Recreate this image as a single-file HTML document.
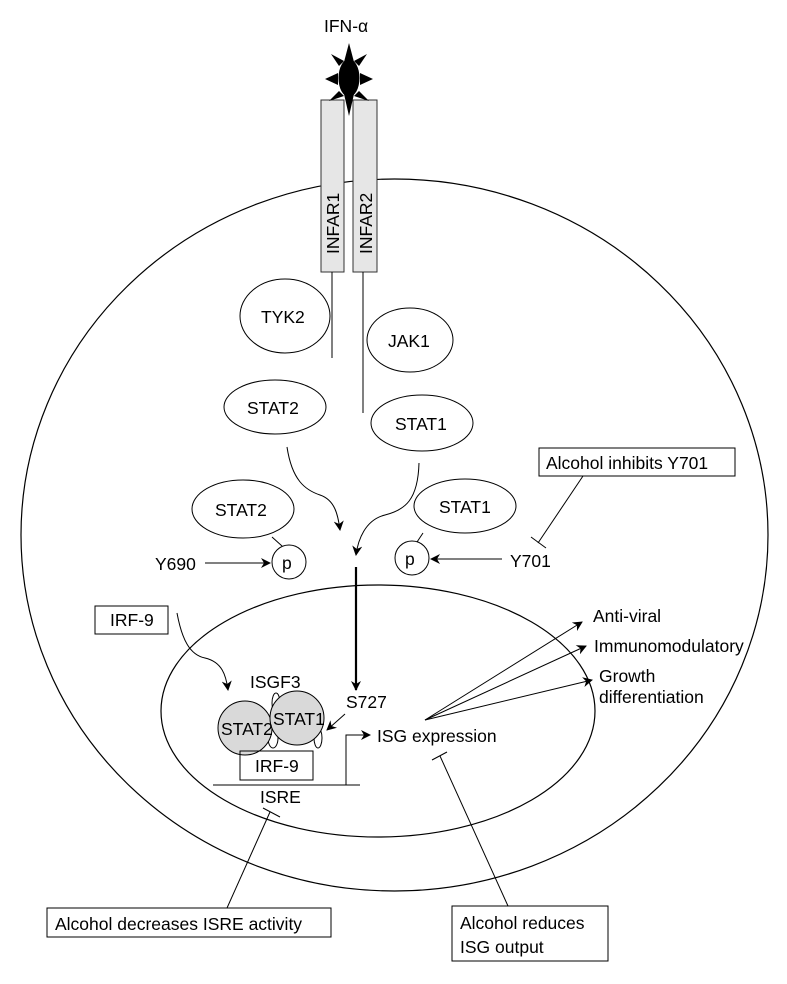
<!DOCTYPE html>
<html><head><meta charset="utf-8"><style>
html,body{margin:0;padding:0;background:#fff;}
svg{display:block;}
text{font-family:"Liberation Sans",sans-serif;font-size:17.5px;fill:#000;}
</style></head><body>
<svg width="787" height="984" viewBox="0 0 787 984" xmlns="http://www.w3.org/2000/svg">
<defs>
<marker id="a" viewBox="0 0 10 10" refX="9" refY="5" markerWidth="10" markerHeight="10" markerUnits="userSpaceOnUse" orient="auto"><path d="M0,0 L10,5 L0,10 L3,5 z" fill="#000"/></marker>
</defs>
<g fill="none" stroke="#000" stroke-width="1.2">
<ellipse cx="394.5" cy="535" rx="373.5" ry="356"/>
<ellipse cx="378" cy="711" rx="217" ry="126"/>
</g>
<!-- receptors -->
<rect x="321" y="100" width="23" height="172" fill="#e6e6e6" stroke="#333" stroke-width="1"/>
<rect x="353" y="100" width="24" height="172" fill="#e6e6e6" stroke="#333" stroke-width="1"/>
<text transform="translate(339,254) rotate(-90)" font-size="19">INFAR1</text>
<text transform="translate(372,254) rotate(-90)" font-size="19">INFAR2</text>
<!-- IFN star -->
<g fill="#000">
<ellipse cx="349" cy="78" rx="10.5" ry="19"/>
<polygon points="344,62 349,43 354,62"/>
<polygon points="344,94 349,116 354,94"/>
<polygon points="338,73 325,79 338,85"/>
<polygon points="360,73 373,79 360,85"/>
<polygon points="339,66 331,54 344,61"/>
<polygon points="359,66 367,54 354,61"/>
<polygon points="339,91 329,101 344,96"/>
<polygon points="359,91 369,101 354,96"/>
</g>
<text x="324" y="32" font-size="20">IFN-α</text>
<g fill="none" stroke="#000" stroke-width="1">
<line x1="332" y1="272" x2="332" y2="358"/>
<line x1="363" y1="272" x2="363" y2="413"/>
<ellipse cx="285" cy="316" rx="45" ry="37"/>
<ellipse cx="410" cy="340" rx="43" ry="32"/>
<ellipse cx="275" cy="407" rx="51" ry="27"/>
<ellipse cx="422" cy="423" rx="51" ry="28"/>
<ellipse cx="243" cy="509" rx="51" ry="29"/>
<ellipse cx="465" cy="506" rx="51" ry="27"/>
<circle cx="289" cy="562" r="17"/>
<circle cx="412" cy="558" r="17"/>
<line x1="272" y1="537" x2="282" y2="546"/>
<line x1="423" y1="533" x2="417" y2="542"/>
<line x1="205" y1="563" x2="270" y2="563" marker-end="url(#a)"/>
<line x1="502" y1="559" x2="431" y2="559" marker-end="url(#a)"/>
<path d="M287,447 C292,480 305,490 320,495 C335,500 338,515 340,530" marker-end="url(#a)"/>
<path d="M419,463 C418,500 405,510 385,515 C365,520 358,540 356,555" marker-end="url(#a)"/>
<line x1="356" y1="567" x2="356" y2="690" stroke-width="2.2" marker-end="url(#a)"/>
<line x1="583" y1="476" x2="538" y2="543"/>
<line x1="531" y1="537" x2="546" y2="548"/>
<rect x="539" y="448" width="196" height="28"/>
<rect x="95" y="606" width="73" height="28"/>
<path d="M177,613 C182,640 190,655 205,658 C222,662 226,675 228,690" marker-end="url(#a)"/>
<!-- ISGF3 complex -->
<ellipse cx="276" cy="703" rx="4" ry="10"/>
<ellipse cx="273" cy="738" rx="5" ry="10"/>
<ellipse cx="318" cy="738" rx="4" ry="10"/>
<circle cx="245" cy="728" r="27" fill="#d9d9d9"/>
<circle cx="297" cy="718" r="27" fill="#d9d9d9"/>
<rect x="240" y="751" width="73" height="29"/>
<line x1="213" y1="785" x2="360" y2="785"/>
<polyline points="346,785 346,735 370,735" marker-end="url(#a)"/>
<line x1="345" y1="714" x2="327" y2="730" marker-end="url(#a)"/>
<line x1="425" y1="720" x2="582" y2="622" marker-end="url(#a)"/>
<line x1="425" y1="720" x2="586" y2="646" marker-end="url(#a)"/>
<line x1="425" y1="720" x2="592" y2="680" marker-end="url(#a)"/>
<line x1="440" y1="756" x2="508" y2="906"/>
<line x1="432" y1="760" x2="447" y2="752"/>
<line x1="270" y1="812" x2="227" y2="908"/>
<line x1="263" y1="808" x2="280" y2="817"/>
<rect x="47" y="908" width="284" height="29"/>
<rect x="452" y="906" width="156" height="55"/>
</g>
<text x="261" y="323">TYK2</text>
<text x="388" y="347">JAK1</text>
<text x="247" y="414">STAT2</text>
<text x="395" y="430">STAT1</text>
<text x="215" y="516">STAT2</text>
<text x="439" y="513">STAT1</text>
<text x="282" y="569">p</text>
<text x="405" y="565">p</text>
<text x="155" y="570">Y690</text>
<text x="510" y="567">Y701</text>
<text x="546" y="469">Alcohol inhibits Y701</text>
<text x="110" y="626">IRF-9</text>
<text x="250" y="688" font-size="16">ISGF3</text>
<text x="221" y="735" font-size="16">STAT2</text>
<text x="273" y="725" font-size="16">STAT1</text>
<text x="255" y="772">IRF-9</text>
<text x="346" y="708" font-size="16">S727</text>
<text x="377" y="742" font-size="16">ISG expression</text>
<text x="260" y="803" font-size="16">ISRE</text>
<text x="593" y="622">Anti-viral</text>
<text x="594" y="652">Immunomodulatory</text>
<text x="599" y="682">Growth</text>
<text x="599" y="703">differentiation</text>
<text x="55" y="930">Alcohol decreases ISRE activity</text>
<text x="460" y="929">Alcohol reduces</text>
<text x="460" y="953">ISG output</text>
</svg>
</body></html>
